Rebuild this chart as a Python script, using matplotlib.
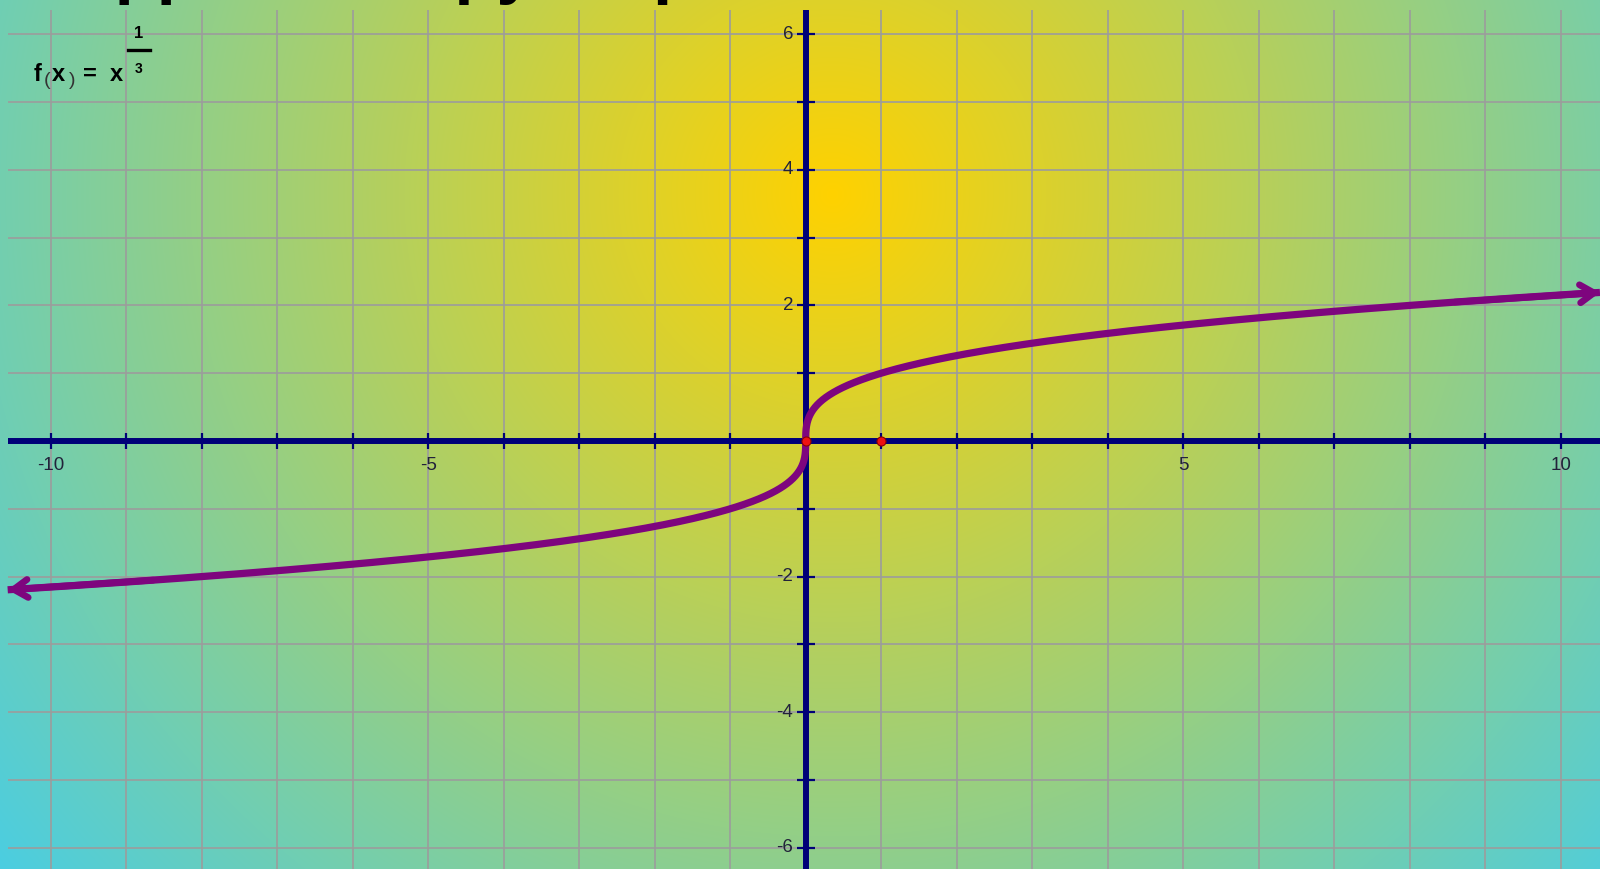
import numpy as np
import matplotlib
matplotlib.use("Agg")
import matplotlib.pyplot as plt

# ---------------- data ----------------
title_text = "Suppose I copy its plot"
func_label = "f(x) = x"
exp_num, exp_den = 1, 3                      # f(x) = x^(1/3)
x_domain = [-10.57, 10.52]                   # ends of the drawn curve (arrow tips)
x_tick_pos = [v for v in range(-10, 11) if v != 0]
y_tick_pos = [v for v in range(-6, 7) if v != 0]
x_tick_labels = [-10, -5, 5, 10]
y_tick_labels = [-6, -4, -2, 2, 4, 6]
grid_x = list(range(-10, 11))
grid_y = list(range(-6, 7))
marked_x = [0, 1]
marked_y = [0, 0]

# ---------------- layout ----------------
W, H, DPI = 1600, 869, 100
X0_PX, Y0_PX = 805.7, 441.0        # pixel of origin
UX, UY = 75.5, 67.8                # pixels per unit
xmin, xmax = -X0_PX / UX, (W - X0_PX) / UX
ymax, ymin = Y0_PX / UY, -(H - Y0_PX) / UY
grid_left = -10.57
grid_top = 6.36

purple = "#7e057e"
navy = "#000078"
gridc = "#9c9c9c"

fig = plt.figure(figsize=(W / DPI, H / DPI), dpi=DPI)
ax = fig.add_axes([0, 0, 1, 1])
ax.set_xlim(xmin, xmax)
ax.set_ylim(ymin, ymax)
ax.axis("off")

# background radial gradient
yy, xx = np.mgrid[0:H, 0:W]
cx, cy, R = 832, 194, 1070
t = np.clip(np.hypot(xx - cx, yy - cy) / R, 0, 1)
c0 = np.array([255, 210, 0]) / 255
c1 = np.array([75, 205, 225]) / 255
img = c0[None, None, :] * (1 - t[..., None]) + c1[None, None, :] * t[..., None]
ax.imshow(img, extent=[xmin, xmax, ymin, ymax], origin="upper", aspect="auto", zorder=0)

# grid
ax.vlines(grid_x, ymin, grid_top, color=gridc, lw=1.2, zorder=1)
ax.hlines(grid_y, grid_left, xmax, color=gridc, lw=1.2, zorder=1)

# axes lines
ax.plot([grid_left, xmax], [0, 0], color=navy, lw=4.3, zorder=2, solid_capstyle="butt")
ax.plot([0, 0], [ymin, grid_top], color=navy, lw=4.3, zorder=2, solid_capstyle="butt")

# tick marks
ax.plot(x_tick_pos, [0] * len(x_tick_pos), ls="none", marker="|", ms=11, mew=1.6,
        color=navy, zorder=2)
ax.plot([0] * len(y_tick_pos), y_tick_pos, ls="none", marker="_", ms=13, mew=1.6,
        color=navy, zorder=2)

# tick labels
lab_kw = dict(fontsize=13.5, family="Liberation Sans", color="#22223a", zorder=3)
for v in x_tick_labels:
    ax.annotate(str(v), xy=(v, 0), xytext=(0, -11.5),
                textcoords="offset points", ha="center", va="top", **lab_kw)
for v in y_tick_labels:
    ax.annotate(str(v), xy=(0, v), xytext=(-9, 0),
                textcoords="offset points", ha="right", va="center", **lab_kw)

# curve f(x) = x^(1/3)
p = exp_num / exp_den
t0 = np.sign(x_domain[0]) * abs(x_domain[0]) ** p
t1 = np.sign(x_domain[1]) * abs(x_domain[1]) ** p
tt = np.linspace(t0, t1, 1200)
cx_ = np.sign(tt) * np.abs(tt) ** (1 / p)
ax.plot(cx_, tt, color=purple, lw=5.2, zorder=4, solid_capstyle="butt")
arrow_kw = dict(arrowstyle="->,head_length=1.0,head_width=0.65", lw=4.8, color=purple,
                shrinkA=0, shrinkB=0)
ax.annotate("", xy=(cx_[-1], tt[-1]), xytext=(cx_[-40], tt[-40]),
            arrowprops=arrow_kw, zorder=4)
ax.annotate("", xy=(cx_[0], tt[0]), xytext=(cx_[39], tt[39]),
            arrowprops=arrow_kw, zorder=4)

# marked points
ax.plot(marked_x, marked_y, ls="none", marker="o", ms=6.5, mfc="#ee1111",
        mec="#8a0000", mew=0.8, zorder=5)

# function label
def fx(px):
    return px / W
def fy(py):
    return 1 - py / H

bold_kw = dict(fontsize=17, weight="bold", family="Liberation Sans", ha="left",
               va="baseline", color="black")
thin_kw = dict(fontsize=14, family="Liberation Sans", ha="left", va="baseline",
               color="#333333")
fig.text(fx(34), fy(81), "f", **bold_kw)
fig.text(fx(44), fy(85), "(", **thin_kw)
fig.text(fx(52), fy(81), "x", **bold_kw)
fig.text(fx(69), fy(85), ")", **thin_kw)
fig.text(fx(83), fy(81), "=", **bold_kw)
fig.text(fx(110), fy(81), "x", **bold_kw)
fig.text(fx(139), fy(38), str(exp_num), fontsize=12, weight="bold",
         family="Liberation Sans", ha="center", va="baseline")
fig.add_artist(plt.Line2D([fx(128), fx(150)], [fy(50), fy(50)], color="black", lw=2.4))
fig.text(fx(139), fy(73), str(exp_den), fontsize=10, weight="bold",
         family="Liberation Sans", ha="center", va="baseline")

# cropped heading at the very top
fig.text(fx(27), fy(-9), title_text, fontsize=49.5, weight="bold",
         family="Liberation Sans", ha="left", va="baseline", color="black")

fig.savefig("out.png", dpi=DPI)
